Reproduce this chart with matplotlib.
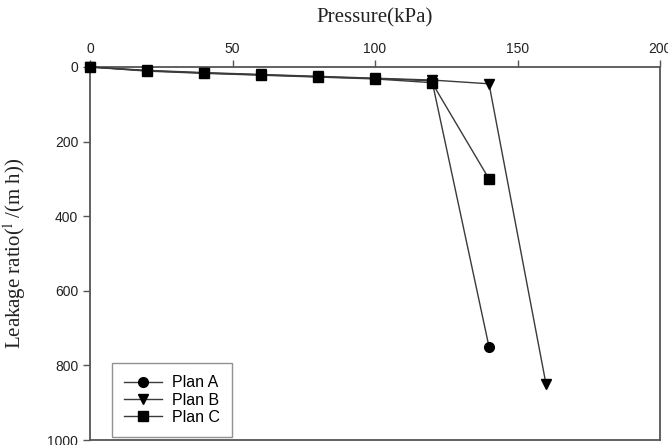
import matplotlib
matplotlib.use("Agg")
import matplotlib.pyplot as plt

pressure_a = [0, 20, 40, 60, 80, 100, 120, 140]
leak_a = [0, 10, 16, 21, 26, 31, 37, 750]
pressure_b = [0, 20, 40, 60, 80, 100, 120, 140, 160]
leak_b = [0, 9, 15, 20, 25, 30, 35, 45, 850]
pressure_c = [0, 20, 40, 60, 80, 100, 120, 140]
leak_c = [0, 11, 17, 22, 27, 32, 42, 300]
labels = ["Plan A", "Plan B", "Plan C"]
x_ticks = [0, 50, 100, 150, 200]
y_ticks = [0, 200, 400, 600, 800, 1000]

plt.rcParams['font.family'] = ['Liberation Sans', 'DejaVu Sans']
plt.rcParams['mathtext.fontset'] = 'stix'

fig = plt.figure(figsize=(6.68, 4.45), dpi=100)
ax = fig.add_axes([90/668, 1-440/445, 570/668, 373/445])

lc = '#3a3a3a'
ax.plot(pressure_a, leak_a, color=lc, lw=1.0, marker='o', ms=7, mfc='black', mec='black', label=labels[0], clip_on=False, zorder=3)
ax.plot(pressure_b, leak_b, color=lc, lw=1.0, marker='v', ms=7, mfc='black', mec='black', label=labels[1], clip_on=False, zorder=3)
ax.plot(pressure_c, leak_c, color=lc, lw=1.0, marker='s', ms=6.5, mfc='black', mec='black', label=labels[2], clip_on=False, zorder=3)

ax.set_xlim(0, 200)
ax.set_ylim(1000, 0)
ax.set_xticks(x_ticks)
ax.set_yticks(y_ticks)
ax.xaxis.tick_top()
ax.xaxis.set_label_position('top')
ax.tick_params(axis='both', direction='out', length=5, width=1, color='#555555',
               labelsize=10, labelcolor='#222222')
ax.tick_params(axis='x', pad=3)
for s in ax.spines.values():
    s.set_color('#555555')
    s.set_linewidth(1.3)

ax.set_xlabel('Pressure(kPa)', family=['Liberation Serif', 'DejaVu Serif'], fontsize=15, labelpad=14, color='#222222')
ax.set_ylabel(r'Leakage ratio($^{\mathrm{l}}$ /(m h))', family=['Liberation Serif', 'DejaVu Serif'],
              fontsize=15, labelpad=14, color='#222222')

leg = ax.legend(loc='lower left', bbox_to_anchor=(22/570, 3/373), frameon=True, fancybox=False,
                edgecolor='#777777', fontsize=11.5, handlelength=2.4, borderpad=0.75, labelspacing=0.15,
                handletextpad=0.6, borderaxespad=0)
leg.get_frame().set_linewidth(1.0)

fig.savefig('out.png', dpi=100)
